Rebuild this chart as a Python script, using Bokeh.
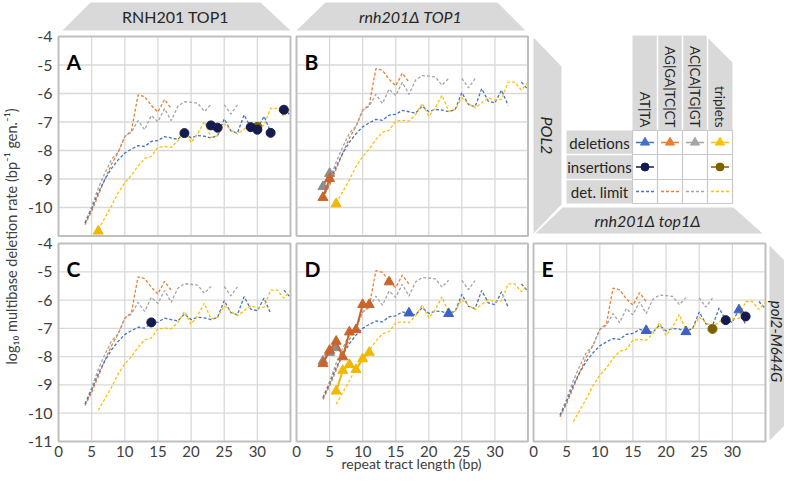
import math
from bokeh.plotting import figure
from bokeh.models import Range1d
from bokeh.core.properties import value
from bokeh.embed import file_html
from bokeh.resources import INLINE

nan = float("nan")

# ---------------- data ----------------
# repeat tract lengths (bp) of the detection-limit curves
len_at = list(range(4, 36))     # AT|TA
len_ag = list(range(4, 18))     # AG|GA|TC|CT
len_ac = list(range(4, 28))     # AC|CA|TG|GT
len_trip = list(range(6, 36))   # triplets

# detection limits, panel A (RNH201 TOP1 / POL2)
limA_at = [-10.54, -10.05, -9.48, -9.01, -8.63, -8.33, -8.09, -7.95, -7.83, -7.86, -7.68, -7.65, -7.51, -7.56, -7.61, -7.36,
           -7.56, -7.48, -7.50, -7.56, -7.48, -6.89, -7.31, -7.39, -6.75, -7.19, -7.25, -6.80, -7.34, nan, -6.52, -6.78]
limA_ag = [-10.60, -10.13, -9.57, -9.01, -8.48, -8.07, -7.51, -7.31, -6.05, -6.11, -6.42, -6.65, -6.21, -6.52]
limA_ac = [-10.54, -9.97, -9.32, -8.79, -8.31, -8.07, -7.51, -7.36, -6.95, -7.27, -6.77, -6.99, -6.53, -6.95, -6.45, -6.29,
           -6.31, -6.34, -6.63, -6.39, nan, -6.39, -6.72, -6.40]
limA_trip = [-10.77, -10.36, -9.95, -9.48, -9.13, -8.87, -8.54, -8.28, -8.21, -7.89, -7.86, -7.89, -7.66, -7.27, -7.72,
             -7.42, -6.98, -7.54, -7.48, -7.07, -7.27, -7.42, -7.25, -7.07, -7.15, -7.12, -6.52, -6.52, -6.80, -6.54]

# panel B (rnh201D TOP1 / POL2)
limB_at = [-9.62, -9.13, -8.56, -8.09, -7.71, -7.41, -7.17, -7.03, -6.91, -6.94, -6.76, -6.73, -6.59, -6.64, -6.69, -6.44,
           -6.64, -6.56, -6.58, -6.64, -6.56, -5.97, -6.39, -6.47, -5.83, -6.27, -6.33, -5.88, -6.42, nan, -5.60, -5.86]
limB_ag = [-9.68, -9.21, -8.65, -8.09, -7.56, -7.15, -6.59, -6.39, -5.13, -5.19, -5.50, -5.73, -5.29, -5.60]
limB_ac = [-9.62, -9.05, -8.40, -7.87, -7.39, -7.15, -6.59, -6.44, -6.03, -6.35, -5.85, -6.07, -5.61, -6.03, -5.53, -5.37,
           -5.39, -5.42, -5.71, -5.47, nan, -5.47, -5.80, -5.48]
limB_trip = [-9.85, -9.44, -9.03, -8.56, -8.21, -7.95, -7.62, -7.36, -7.29, -6.97, -6.94, -6.97, -6.74, -6.35, -6.80,
             -6.50, -6.06, -6.62, -6.56, -6.15, -6.35, -6.50, -6.33, -6.15, -6.23, -6.20, -5.60, -5.60, -5.88, -5.62]

# panel C (RNH201 TOP1 / pol2-M644G)
limC_at = [-9.67, -9.18, -8.61, -8.14, -7.76, -7.46, -7.22, -7.08, -6.96, -6.99, -6.81, -6.78, -6.64, -6.69, -6.74, -6.49,
           -6.69, -6.61, -6.63, -6.69, -6.61, -6.02, -6.44, -6.52, -5.88, -6.32, -6.38, -5.93, -6.47, nan, -5.65, -5.91]
limC_ag = [-9.73, -9.26, -8.70, -8.14, -7.61, -7.20, -6.64, -6.44, -5.18, -5.24, -5.55, -5.78, -5.34, -5.65]
limC_ac = [-9.67, -9.10, -8.45, -7.92, -7.44, -7.20, -6.64, -6.49, -6.08, -6.40, -5.90, -6.12, -5.66, -6.08, -5.58, -5.42,
           -5.44, -5.47, -5.76, -5.52, nan, -5.52, -5.85, -5.53]
limC_trip = [-9.90, -9.49, -9.08, -8.61, -8.26, -8.00, -7.67, -7.41, -7.34, -7.02, -6.99, -7.02, -6.79, -6.40, -6.85,
             -6.55, -6.11, -6.67, -6.61, -6.20, -6.40, -6.55, -6.38, -6.20, -6.28, -6.25, -5.65, -5.65, -5.93, -5.67]

# panel D (rnh201D TOP1 / pol2-M644G)
limD_at = [-9.45, -8.96, -8.39, -7.92, -7.54, -7.24, -7.00, -6.86, -6.74, -6.77, -6.59, -6.56, -6.42, -6.47, -6.52, -6.27,
           -6.47, -6.39, -6.41, -6.47, -6.39, -5.80, -6.22, -6.30, -5.66, -6.10, -6.16, -5.71, -6.25, nan, -5.43, -5.69]
limD_ag = [-9.51, -9.04, -8.48, -7.92, -7.39, -6.98, -6.42, -6.22, -4.96, -5.02, -5.33, -5.56, -5.12, -5.43]
limD_ac = [-9.45, -8.88, -8.23, -7.70, -7.22, -6.98, -6.42, -6.27, -5.86, -6.18, -5.68, -5.90, -5.44, -5.86, -5.36, -5.20,
           -5.22, -5.25, -5.54, -5.30, nan, -5.30, -5.63, -5.31]
limD_trip = [-9.68, -9.27, -8.86, -8.39, -8.04, -7.78, -7.45, -7.19, -7.12, -6.80, -6.77, -6.80, -6.57, -6.18, -6.63,
             -6.33, -5.89, -6.45, -6.39, -5.98, -6.18, -6.33, -6.16, -5.98, -6.06, -6.03, -5.43, -5.43, -5.71, -5.45]

# panel E (rnh201D top1D / pol2-M644G)
limE_at = [-10.07, -9.58, -9.01, -8.54, -8.16, -7.86, -7.62, -7.48, -7.36, -7.39, -7.21, -7.18, -7.04, -7.09, -7.14, -6.89,
           -7.09, -7.01, -7.03, -7.09, -7.01, -6.42, -6.84, -6.92, -6.28, -6.72, -6.78, -6.33, -6.87, nan, -6.05, -6.31]
limE_ag = [-10.13, -9.66, -9.10, -8.54, -8.01, -7.60, -7.04, -6.84, -5.58, -5.64, -5.95, -6.18, -5.74, -6.05]
limE_ac = [-10.07, -9.50, -8.85, -8.32, -7.84, -7.60, -7.04, -6.89, -6.48, -6.80, -6.30, -6.52, -6.06, -6.48, -5.98, -5.82,
           -5.84, -5.87, -6.16, -5.92, nan, -5.92, -6.25, -5.93]
limE_trip = [-10.30, -9.89, -9.48, -9.01, -8.66, -8.40, -8.07, -7.81, -7.74, -7.42, -7.39, -7.42, -7.19, -6.80, -7.25,
             -6.95, -6.51, -7.07, -7.01, -6.60, -6.80, -6.95, -6.78, -6.60, -6.68, -6.65, -6.05, -6.05, -6.33, -6.07]

# observed multibase deletions (triangles) and insertions (circles)
A_del_trip_x = [6]
A_del_trip_y = [-10.83]
A_ins_at_x = [19, 23, 24, 29, 30, 32, 34]
A_ins_at_y = [-7.39, -7.12, -7.20, -7.18, -7.27, -7.38, -6.57]
A_ins_trip_x = [30]
A_ins_trip_y = [-7.17]

B_del_ag_x = [4, 5]
B_del_ag_y = [-9.65, -8.99]
B_del_ac_x = [4, 5]
B_del_ac_y = [-9.27, -8.81]
B_del_trip_x = [6]
B_del_trip_y = [-9.87]

C_ins_at_x = [14]
C_ins_at_y = [-6.79]

D_del_ag_x = [4, 5, 6, 7, 8, 9, 10, 11, nan, 14]
D_del_ag_y = [-8.25, -7.78, -7.46, -8.01, -7.13, -7.05, -6.16, -6.16, nan, -5.36]
D_del_ac_x = [4, 5, 6]
D_del_ac_y = [-8.16, -7.85, -7.69]
D_del_trip_x = [6, 7, 8, 9, 10, 11]
D_del_trip_y = [-9.22, -8.49, -8.28, -8.46, -8.08, -7.85]
D_del_at_x = [17, 23]
D_del_at_y = [-6.46, -6.48]

E_del_at_x = [17, 23, 31]
E_del_at_y = [-7.08, -7.12, -6.35]
E_ins_trip_x = [27]
E_ins_trip_y = [-7.02]
E_ins_at_x = [29, 32]
E_ins_at_y = [-6.71, -6.58]

x_ticks = [0, 5, 10, 15, 20, 25, 30]
y_ticks_top = [-10, -9, -8, -7, -6, -5, -4]
y_ticks_bottom = [-11, -10, -9, -8, -7, -6, -5, -4]
col_labels = ["AT|TA", "AG|GA|TC|CT", "AC|CA|TG|GT", "triplets"]
row_labels = ["deletions", "insertions", "det. limit"]

# ---------------- styles ----------------
FONT = "Lato"
C_AT, C_AG, C_AC, C_TRIP = "#4472C4", "#ED7D31", "#A5A5A5", "#FFC000"
D_AT, D_AG, D_AC, D_TRIP = "#3F62C0", "#C9652A", "#8C8C8C", "#F2B800"
C_NAVY, C_OLIVE = "#141B4D", "#7F6000"
GRAY_BOX = "#D9D9D9"
TXT = "#262626"

W, H = 784, 472
p = figure(width=W, height=H, x_range=Range1d(0, W), y_range=Range1d(H, 0),
           output_backend="svg", toolbar_location=None, min_border=0,
           x_axis_location=None, y_axis_location=None,
           background_fill_color="white", border_fill_color="white", outline_line_color=None)
p.grid.visible = False


def txt(x, y, s, size="15px", align="center", baseline="middle", angle=0.0, style="normal",
        color=TXT, xr="default", yr="default"):
    p.text(x=x, y=y, text=s, text_font=value(FONT), text_font_size=size, text_align=align,
           text_baseline=baseline, angle=angle, text_font_style=style, text_color=color,
           x_range_name=xr, y_range_name=yr)


# panel boxes in canvas pixels (left, right, top, bottom)
boxes = {
    "A": (58, 290, 36, 235.5),
    "B": (296, 527.5, 36, 235.5),
    "C": (58, 290, 243, 441),
    "D": (296, 527.5, 243, 441),
    "E": (533, 765, 243, 441),
}
XMAX, YMIN, YMAX = 35.0, -11.0, -4.0
for name, (L, R, T, B) in boxes.items():
    p.extra_x_ranges[name] = Range1d((0 - L) * XMAX / (R - L), (W - L) * XMAX / (R - L))
    p.extra_y_ranges[name] = Range1d(YMIN + (B - H) * (YMAX - YMIN) / (B - T),
                                     YMIN + (B - 0) * (YMAX - YMIN) / (B - T))

limits = {
    "A": (limA_at, limA_ag, limA_ac, limA_trip),
    "B": (limB_at, limB_ag, limB_ac, limB_trip),
    "C": (limC_at, limC_ag, limC_ac, limC_trip),
    "D": (limD_at, limD_ag, limD_ac, limD_trip),
    "E": (limE_at, limE_ag, limE_ac, limE_trip),
}

grid_x = [5, 10, 15, 20, 25, 30]
grid_y = [-10, -9, -8, -7, -6, -5]
for name in boxes:
    kw = dict(x_range_name=name, y_range_name=name)
    p.segment(x0=grid_x, y0=[YMIN] * 6, x1=grid_x, y1=[YMAX] * 6, line_color="#D9D9D9", line_width=1.3, **kw)
    p.segment(x0=[0] * 6, y0=grid_y, x1=[XMAX] * 6, y1=grid_y, line_color="#D9D9D9", line_width=1.3, **kw)
    p.quad(left=[0], right=[XMAX], bottom=[YMIN], top=[YMAX], fill_color=None,
           line_color="#BFBFBF", line_width=2, **kw)
    la, lg, lc, lt = limits[name]
    for xs, ys, col in ((len_ag, lg, C_AG), (len_ac, lc, C_AC), (len_at, la, C_AT), (len_trip, lt, C_TRIP)):
        p.line(xs, ys, line_color=col, line_width=1.3, line_dash="3 2", **kw)
    L, R, T, B = boxes[name]
    txt([L + 8], [T + 25], [name], size="21px", align="left", baseline="alphabetic", style="bold", color="#000000")


def deletions(panel, xs, ys, color):
    kw = dict(x_range_name=panel, y_range_name=panel)
    p.line(xs, ys, line_color=color, line_width=2, **kw)
    p.scatter(xs, ys, marker="triangle", size=10, fill_color=color, line_color=color, **kw)


def insertions(panel, xs, ys, color):
    p.scatter(xs, ys, marker="circle", size=9, fill_color=color, line_color=color,
              x_range_name=panel, y_range_name=panel)


deletions("A", A_del_trip_x, A_del_trip_y, D_TRIP)
insertions("A", A_ins_trip_x, A_ins_trip_y, C_OLIVE)
insertions("A", A_ins_at_x, A_ins_at_y, C_NAVY)
deletions("B", B_del_ac_x, B_del_ac_y, D_AC)
deletions("B", B_del_ag_x, B_del_ag_y, D_AG)
deletions("B", B_del_trip_x, B_del_trip_y, D_TRIP)
insertions("C", C_ins_at_x, C_ins_at_y, C_NAVY)
deletions("D", D_del_ac_x, D_del_ac_y, D_AC)
deletions("D", D_del_ag_x, D_del_ag_y, D_AG)
deletions("D", D_del_trip_x, D_del_trip_y, D_TRIP)
p.scatter(D_del_at_x, D_del_at_y, marker="triangle", size=10, fill_color=D_AT, line_color=D_AT,
          x_range_name="D", y_range_name="D")
p.scatter(E_del_at_x, E_del_at_y, marker="triangle", size=10, fill_color=D_AT, line_color=D_AT,
          x_range_name="E", y_range_name="E")
insertions("E", E_ins_trip_x, E_ins_trip_y, C_OLIVE)
insertions("E", E_ins_at_x, E_ins_at_y, C_NAVY)

# ---------------- tick labels ----------------
for name, ticks in (("A", y_ticks_top), ("C", y_ticks_bottom)):
    txt([52] * len(ticks), ticks, [str(t) for t in ticks], size="16px", align="right", yr=name, color="#404040")
for name in ("C", "D", "E"):
    txt(x_ticks, [451] * len(x_ticks), [str(t) for t in x_ticks], size="15px", xr=name, color="#404040")

txt([411], [463], ["repeat tract length (bp)"], size="14px", color="#404040")
txt([11], [236], ["log\u2081\u2080 multibase deletion rate (bp\u207b\u00b9 gen.\u207b\u00b9)"], size="14.5px",
    angle=math.pi / 2, color="#404040")

# ---------------- strip headers ----------------
hdr_xs = [[62, 90, 260, 290], [296, 325, 497, 525], [533, 561, 561, 533], [535, 562, 733, 762], [769, 799, 799, 769]]
hdr_ys = [[30, 2, 2, 30], [30, 2, 2, 30], [37, 66, 204, 233], [233, 207, 207, 233], [245, 275, 410, 440]]
p.patches(hdr_xs, hdr_ys, fill_color=GRAY_BOX, line_color=None)
txt([175], [16], ["RNH201 TOP1"], size="16px")
txt([410], [16], ["rnh201\u0394 TOP1"], size="16px", style="italic")
txt([547], [135], ["POL2"], size="16px", style="italic", angle=-math.pi / 2)
txt([647], [220], ["rnh201\u0394 top1\u0394"], size="16px", style="italic")
txt([776], [341], ["pol2-M644G"], size="15px", style="italic", angle=-math.pi / 2)

# ---------------- legend table ----------------
col_cx = [644.5, 669.5, 694.5, 719.5]
row_cy = [142, 166.5, 191]
p.patch([632, 705, 732, 732, 632], [35, 35, 62, 130, 130], fill_color=GRAY_BOX, line_color=None)
p.quad(left=[566], right=[632], top=[130], bottom=[203], fill_color=GRAY_BOX, line_color=None)
p.segment(x0=[657, 682, 707], y0=[35] * 3, x1=[657, 682, 707], y1=[130] * 3, line_color="white", line_width=1.5)
p.segment(x0=[566, 566], y0=[154, 179], x1=[632, 632], y1=[154, 179], line_color="white", line_width=1.5)
p.segment(x0=[632, 657, 682, 707, 732], y0=[130] * 5, x1=[632, 657, 682, 707, 732], y1=[203] * 5,
          line_color="#C8C8C8", line_width=1.2)
p.segment(x0=[632] * 4, y0=[130, 154, 179, 203], x1=[732] * 4, y1=[130, 154, 179, 203],
          line_color="#C8C8C8", line_width=1.2)
txt(col_cx, [127] * 4, col_labels, size="13.5px", align="right", angle=-math.pi / 2)
txt([599] * 3, row_cy, row_labels, size="15px")

leg_del = [C_AT, C_AG, C_AC, C_TRIP]
p.segment(x0=[c - 9 for c in col_cx], y0=[row_cy[0]] * 4, x1=[c + 9 for c in col_cx], y1=[row_cy[0]] * 4,
          line_color=leg_del, line_width=1.5)
p.scatter(col_cx, [row_cy[0]] * 4, marker="triangle", size=9, fill_color=leg_del, line_color=leg_del)
ins_cx = [col_cx[0], col_cx[3]]
ins_col = [C_NAVY, C_OLIVE]
p.segment(x0=[c - 9 for c in ins_cx], y0=[row_cy[1]] * 2, x1=[c + 9 for c in ins_cx], y1=[row_cy[1]] * 2,
          line_color=ins_col, line_width=1.5)
p.scatter(ins_cx, [row_cy[1]] * 2, marker="circle", size=8, fill_color=ins_col, line_color=ins_col)
for c, col in zip(col_cx, leg_del):
    p.line([c - 9, c + 9], [row_cy[2], row_cy[2]], line_color=col, line_width=1.5, line_dash="3 2")

open("out.html", "w").write(file_html(p, INLINE))
